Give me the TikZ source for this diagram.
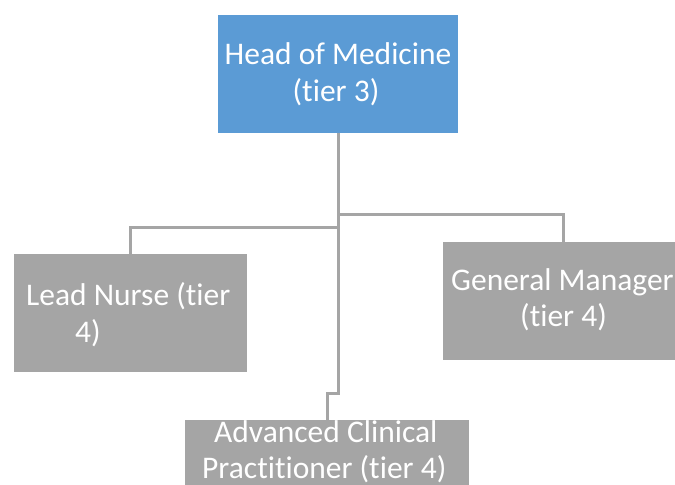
\documentclass[tikz,border=0pt]{standalone}
\usepackage{fontspec}
\setmainfont{Carlito}[Ligatures={NoCommon}]
\definecolor{blueb}{HTML}{5B9BD5}
\definecolor{grayb}{HTML}{A5A5A5}
\begin{document}
\begin{tikzpicture}[x=1bp,y=-1bp,
  box/.style={draw=none, rectangle, inner sep=0pt, outer sep=0pt, minimum height=118bp},
  conn/.style={draw=grayb, line width=3bp},
  lbl/.style={text=white, font=\fontsize{31.5bp}{36bp}\selectfont, inner sep=0pt, anchor=base west},
  lblc/.style={lbl, anchor=base}]
\useasboundingbox (0,0) rectangle (675,485);
\clip (0,0) rectangle (675,485);
% boxes
\node[box, fill=blueb, minimum width=240bp] (head) at (338,74) {};
\node[box, fill=grayb, minimum width=233bp] (ln) at (130.5,313) {};
\node[box, fill=grayb, minimum width=240bp] (gm) at (563,301) {};
\node[box, fill=grayb, minimum width=284bp] (acp) at (327,479) {};
% junction coordinates
\coordinate (gmbar) at (0,214.7);
\coordinate (lnbar) at (0,227.3);
\coordinate (acpjog) at (0,393.3);
% connectors
\draw[conn] (head.south) -- (head.south |- acpjog) -| (acp.north);
\draw[conn] (head.south |- lnbar) -| (ln.north);
\draw[conn] (head.south |- gmbar) -| (gm.north);
% labels
\node[lblc] (headA) at (338,65) {Head of Medicine};
\node[lblc] (headB) at (336,102) {(tier 3)};
\node[lbl] (lnA) at (26,305) {Lead Nurse (tier};
\node[lbl] (lnB) at (75,342) {4)};
\node[lbl] (gmA) at (451,290) {General Manager};
\node[lbl] (gmB) at (520,326) {(tier 4)};
\node[lbl] (acpA) at (214,442) {Advanced Clinical};
\node[lbl] (acpB) at (202,478) {Practitioner (tier 4)};
\end{tikzpicture}
\end{document}
